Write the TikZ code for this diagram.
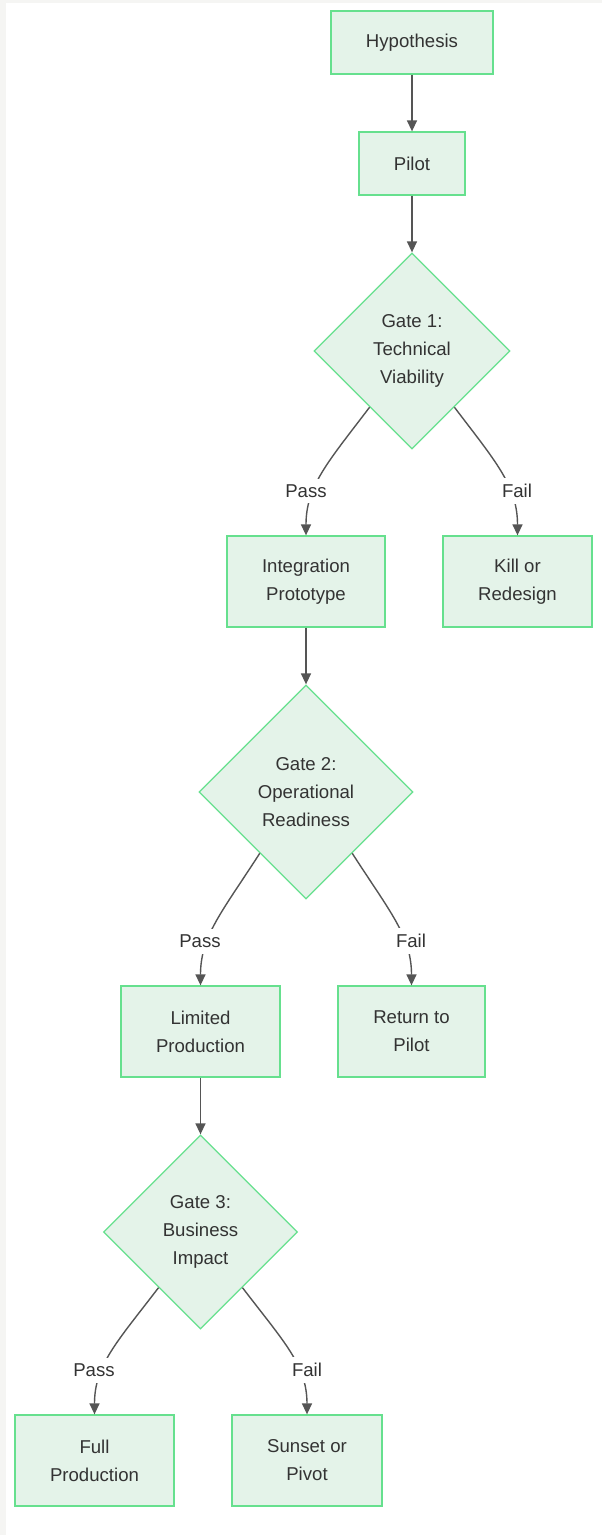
\documentclass[tikz,border=0pt]{standalone}
\usepackage{fontspec}
\setmainfont{Liberation Sans}
\usetikzlibrary{shapes.geometric,arrows.meta,calc}
\definecolor{nodefill}{RGB}{228,243,233}
\definecolor{nodeline}{RGB}{102,224,142}
\definecolor{edgecol}{RGB}{85,85,85}
\definecolor{txt}{RGB}{51,51,51}
\definecolor{margin}{RGB}{245,245,243}
\tikzset{
  box/.style={draw=nodeline, fill=nodefill, line width=1.3pt, inner sep=0pt, align=center,
    text=txt, font=\fontsize{18.6}{28}\selectfont},
  gate/.style={diamond, draw=nodeline, fill=nodefill, line width=1.3pt, inner sep=0pt, aspect=1,
    align=center, text=txt, font=\fontsize{18.6}{28}\selectfont},
  edge/.style={draw=edgecol, line width=1.4pt, -{Triangle[length=11pt,width=10pt]}},
  lbl/.style={fill=white, inner xsep=2pt, inner ysep=6pt, text=txt, font=\fontsize{18.6}{22}\selectfont}
}
\begin{document}
\begin{tikzpicture}[x=1pt,y=-1pt]
\useasboundingbox (0,0) rectangle (602,1535);
\fill[margin] (0,0) rectangle (602,1535);
\fill[white] (6,3) rectangle (602,1535);

\node[box, minimum width=162pt, minimum height=63pt] (hyp) at (412,42.5) {Hypothesis};
\node[box, minimum width=106pt, minimum height=63pt] (pilot) at (412,163.5) {Pilot};
\node[gate, minimum width=196pt, minimum height=196pt] (g1) at (412,351) {Gate 1:\\Technical\\Viability};
\node[box, minimum width=158pt, minimum height=91pt] (int) at (306,581.5) {Integration\\Prototype};
\node[box, minimum width=149pt, minimum height=91pt] (kill) at (517.5,581.5) {Kill or\\Redesign};
\node[gate, minimum width=214pt, minimum height=214pt] (g2) at (306,792) {Gate 2:\\Operational\\Readiness};
\node[box, minimum width=159pt, minimum height=91pt] (lim) at (200.5,1031.5) {Limited\\Production};
\node[box, minimum width=147pt, minimum height=91pt] (ret) at (411.5,1031.5) {Return to\\Pilot};
\node[gate, minimum width=194pt, minimum height=194pt] (g3) at (200.5,1232) {Gate 3:\\Business\\Impact};
\node[box, minimum width=159pt, minimum height=91pt] (full) at (94.5,1460.5) {Full\\Production};
\node[box, minimum width=150pt, minimum height=91pt] (sun) at (307,1460.5) {Sunset or\\Pivot};

\draw[edge] (hyp.south) -- (pilot.north);
\draw[edge] (pilot.south) -- (g1.north);

\draw[edge] ($(g1.south)!0.43!(g1.west)$) .. controls (328,462) and (306,486) .. (int.north);
\draw[edge] ($(g1.south)!0.43!(g1.east)$) .. controls (496,462) and (517.5,486) .. (kill.north);
\draw[edge] (int.south) -- (g2.north);
\draw[edge] ($(g2.south)!0.43!(g2.west)$) .. controls (222,912) and (200.5,936) .. (lim.north);
\draw[edge] ($(g2.south)!0.43!(g2.east)$) .. controls (390,912) and (411.5,936) .. (ret.north);
\draw[edge] (lim.south) -- (g3.north);
\draw[edge] ($(g3.south)!0.43!(g3.west)$) .. controls (117,1342) and (94.5,1365) .. (full.north);
\draw[edge] ($(g3.south)!0.43!(g3.east)$) .. controls (284,1342) and (307,1365) .. (sun.north);

\node[lbl] (l1) at (306,491) {Pass};
\node[lbl] (l2) at (517,491) {Fail};
\node[lbl] (l3) at (200,941) {Pass};
\node[lbl] (l4) at (411,941) {Fail};
\node[lbl] (l5) at (94,1370) {Pass};
\node[lbl] (l6) at (307,1370) {Fail};
\end{tikzpicture}
\end{document}
